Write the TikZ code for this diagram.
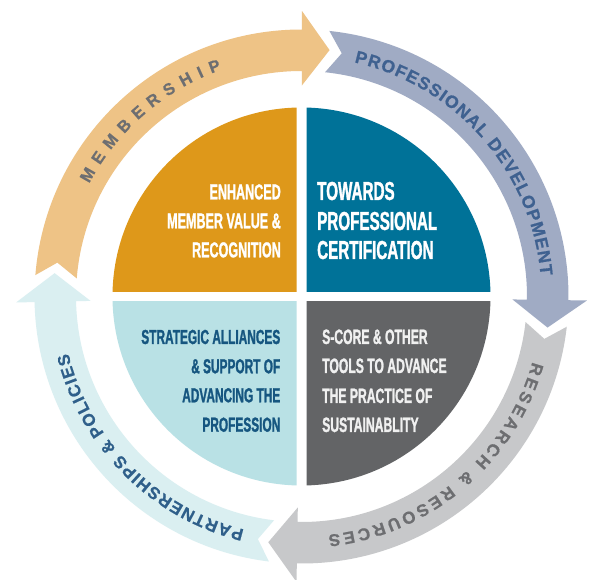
\documentclass[tikz,border=0pt]{standalone}
\usepackage{fontspec}
\setmainfont{Liberation Sans}
\newfontfamily\condfont{Liberation Sans}[FakeStretch=0.585, FakeBold=1.2]
\newfontfamily\ringfont{Liberation Sans}[FakeBold=0.8]
\usetikzlibrary{decorations.text}
\definecolor{memband}{HTML}{EEC386}
\definecolor{pdband}{HTML}{A0ABC4}
\definecolor{resband}{HTML}{C7C8CA}
\definecolor{parband}{HTML}{DAEFF1}
\definecolor{qorange}{HTML}{DE981A}
\definecolor{qblue}{HTML}{007298}
\definecolor{qgray}{HTML}{636466}
\definecolor{qlight}{HTML}{B9E1E5}
\definecolor{graytxt}{HTML}{6D6E71}
\definecolor{pdtxt}{HTML}{3F6190}
\definecolor{partxt}{HTML}{2F5F8A}
\definecolor{lighttxt}{HTML}{165680}
\newcommand\ringarrow[5]{%
  \fill[#1] (#2:267) arc[start angle=#2, end angle=#4, radius=267]
    -- (#4:285.5) -- (#5:248) -- (#4:211) -- (#4:225.5)
    arc[start angle=#4, end angle=#2, radius=225.5] -- (#3:246.5) -- cycle;}
\newcommand\memfont{\ringfont\bfseries\fontsize{16.5pt}{17pt}\selectfont\color{graytxt}}
\newcommand\pdfont{\ringfont\bfseries\fontsize{17.5pt}{18pt}\selectfont\color{pdtxt}}
\newcommand\resfont{\ringfont\bfseries\fontsize{17pt}{18pt}\selectfont\color{graytxt}}
\newcommand\parfont{\ringfont\bfseries\fontsize{17pt}{18pt}\selectfont\color{partxt}}
\tikzset{
  qtext/.style={inner sep=0pt},
  qA/.style={qtext, font=\condfont\bfseries\fontsize{21.5pt}{21.5pt}\selectfont, text=white, anchor=base east},
  qB/.style={qtext, font=\condfont\bfseries\fontsize{26pt}{26pt}\selectfont, text=white, anchor=base west},
  qC/.style={qtext, font=\condfont\bfseries\fontsize{20.3pt}{20.3pt}\selectfont, text=lighttxt, anchor=base east},
  qD/.style={qtext, font=\condfont\bfseries\fontsize{20.8pt}{20.8pt}\selectfont, text=white!94!black, anchor=base west},
  ringtext/.style={decorate, decoration={text along path, text align=fit to path, text={#1}}}
}
\begin{document}
\begin{tikzpicture}[x=1pt,y=1pt]
\useasboundingbox (-301.5,-283.5) rectangle (287.5,296.5);
\fill[white] (-301.5,-283.5) rectangle (287.5,296.5);
% quadrants
\begin{scope}\clip (-200,5) rectangle (-5,200); \fill[qorange] (0,0) circle[radius=189]; \end{scope}
\begin{scope}\clip (5,5) rectangle (200,200); \fill[qblue] (0,0) circle[radius=189]; \end{scope}
\begin{scope}\clip (-200,-5) rectangle (-5,-200); \fill[qlight] (0,0) circle[radius=189]; \end{scope}
\begin{scope}\clip (5,-5) rectangle (200,-200); \fill[qgray] (0,0) circle[radius=189]; \end{scope}
% ring arrows
\ringarrow{memband}{175.4}{172.1}{89.9}{83.5}
\ringarrow{pdband}{84.0}{80.6}{-0.8}{-7.2}
\ringarrow{resband}{-6.5}{-9.9}{-91}{-97.7}
\ringarrow{parband}{-97.0}{-100.2}{-178.8}{-185.4}
% ring texts
\path[ringtext={|\memfont|MEMBERSHIP}] (152:240.5) arc[start angle=152, end angle=109.4, radius=240.5];
\path[ringtext={|\pdfont|PROFESSIONAL DEVELOPMENT}] (77.3:240) arc[start angle=77.3, end angle=5, radius=240];
\path[ringtext={|\resfont|RESEARCH {\&} RESOURCES}] (-15.8:240) arc[start angle=-15.8, end angle=-83.6, radius=240];
\path[ringtext={|\parfont|PARTNERSHIPS {\&} POLICIES}] (-103.8:240) arc[start angle=-103.8, end angle=-166.3, radius=240];
% quadrant texts
\node[qA] (o1) at (-20.5,97.2) {ENHANCED};
\node[qA] (o2) at (-20.5,68.2) {MEMBER VALUE \&};
\node[qA] (o3) at (-20.5,39.2) {RECOGNITION};
\node[qB] (b1) at (15.5,96.5) {TOWARDS};
\node[qB] (b2) at (15.5,66.5) {PROFESSIONAL};
\node[qB] (b3) at (15.5,37.5) {CERTIFICATION};
\node[qC] (l1) at (-21,-47.5) {STRATEGIC ALLIANCES};
\node[qC] (l2) at (-21,-76.8) {\& SUPPORT OF};
\node[qC] (l3) at (-21,-105.8) {ADVANCING THE};
\node[qC] (l4) at (-21,-135.2) {PROFESSION};
\node[qD] (g1) at (20.5,-47.5) {S-CORE \& OTHER};
\node[qD] (g2) at (20.5,-76.5) {TOOLS TO ADVANCE};
\node[qD] (g3) at (20.5,-106.5) {THE PRACTICE OF};
\node[qD] (g4) at (20.5,-135.5) {SUSTAINABLITY};
\end{tikzpicture}
\end{document}
